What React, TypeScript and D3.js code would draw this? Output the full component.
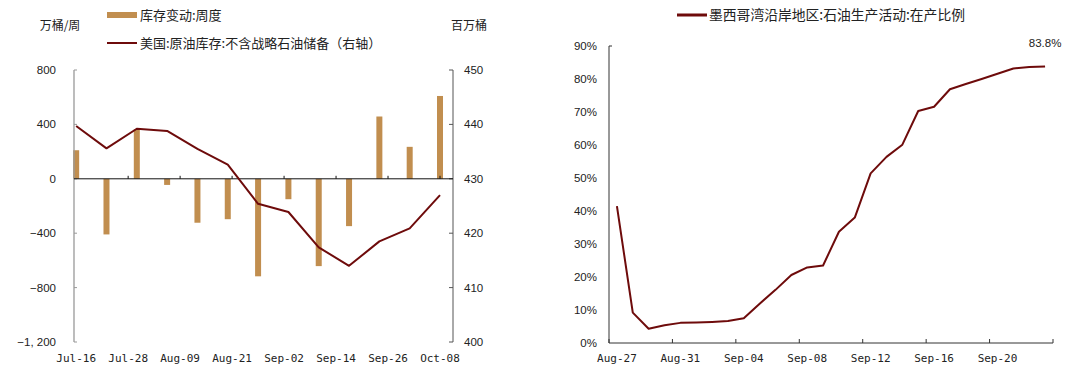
import React from "react";
import * as d3 from "d3";

// ---- Left chart data ----
const weekDates = ["2021-07-16","2021-07-23","2021-07-30","2021-08-06","2021-08-13","2021-08-20","2021-08-27","2021-09-03","2021-09-10","2021-09-17","2021-09-24","2021-10-01","2021-10-08"];
const stockChange = [210, -409, 363, -45, -323, -297, -717, -150, -642, -348, 458, 235, 609]; // 万桶/周
const crudeStocks = [439.7, 435.6, 439.2, 438.8, 435.5, 432.6, 425.4, 423.9, 417.4, 414.0, 418.5, 420.9, 427.0]; // 百万桶
const leftTickLabels = ["Jul-16","Jul-28","Aug-09","Aug-21","Sep-02","Sep-14","Sep-26","Oct-08"];
const leftTickDates = ["2021-07-16","2021-07-28","2021-08-09","2021-08-21","2021-09-02","2021-09-14","2021-09-26","2021-10-08"];
const leftYTicks = [800, 400, 0, -400, -800, -1200];
const leftYLabels = ["800", "400", "0", "\u2212400", "\u2212800", "\u22121, 200"];
const rightYTicks = [450, 440, 430, 420, 410, 400];

// ---- Right chart data ----
const dayLabels = ["Aug-27","Aug-28","Aug-29","Aug-30","Aug-31","Sep-01","Sep-02","Sep-03","Sep-04","Sep-05","Sep-06","Sep-07","Sep-08","Sep-09","Sep-10","Sep-11","Sep-12","Sep-13","Sep-14","Sep-15","Sep-16","Sep-17","Sep-18","Sep-19","Sep-20","Sep-21","Sep-22","Sep-23"];
const inProduction = [41.5, 9.2, 4.3, 5.4, 6.1, 6.2, 6.4, 6.7, 7.5, 11.9, 16.1, 20.6, 22.9, 23.5, 33.7, 38.0, 51.4, 56.4, 60.1, 70.3, 71.6, 76.9, 78.5, 80.0, 81.6, 83.2, 83.6, 83.8];
const shownDayLabels = ["Aug-27","Aug-31","Sep-04","Sep-08","Sep-12","Sep-16","Sep-20"];
const pctTicks = [0, 10, 20, 30, 40, 50, 60, 70, 80, 90];

const BAR = "#C18E4F";
const LINE = "#6E0B0B";
const TXT = "#222";
const NUM_FONT = "'Liberation Sans', Arial, sans-serif";
const CJK_FONT = "'Noto Sans CJK SC', sans-serif";
const MONO_FONT = "'DejaVu Sans Mono', monospace";

const parse = d3.timeParse("%Y-%m-%d");

function LeftChart() {
  const x = d3.scaleTime()
    .domain([new Date(2021, 6, 15, 12), new Date(2021, 9, 11)])
    .range([74, 453]);
  const yL = d3.scaleLinear().domain([-1200, 800]).range([342, 70]);
  const yR = d3.scaleLinear().domain([400, 450]).range([342, 70]);
  const dates = weekDates.map((d) => parse(d)!);
  const line = d3.line<number>()
    .x((_, i) => x(dates[i]))
    .y((v) => yR(v));
  const bw = 6;
  return (
    <g>
      {/* legend */}
      <rect x={107} y={12} width={30} height={6} fill={BAR} />
      <text x={140} y={20} fontFamily={CJK_FONT} fontSize={13} fill={TXT}>库存变动:周度</text>
      <line x1={107} x2={137} y1={43} y2={43} stroke={LINE} strokeWidth={2} />
      <text x={140} y={48} fontFamily={CJK_FONT} fontSize={13} fill={TXT}>美国:原油库存:不含战略石油储备（右轴）</text>
      <text x={60} y={30} textAnchor="middle" fontFamily={CJK_FONT} fontSize={12} fill={TXT}>万桶/周</text>
      <text x={469} y={30} textAnchor="middle" fontFamily={CJK_FONT} fontSize={12} fill={TXT}>百万桶</text>

      {/* bars */}
      {stockChange.map((v, i) => (
        <rect key={i} x={x(dates[i]) - bw / 2} y={Math.min(yL(v), yL(0))} width={bw}
          height={Math.abs(yL(v) - yL(0))} fill={BAR} />
      ))}

      {/* left axis */}
      <line x1={74} x2={74} y1={yL(800)} y2={yL(-1200)} stroke="#999" strokeWidth={1.3} />
      {leftYTicks.map((t, i) => (
        <g key={t}>
          <line x1={74} x2={77} y1={yL(t)} y2={yL(t)} stroke="#999" strokeWidth={1} />
          <text x={56} y={yL(t)} dy="0.35em" textAnchor="end" fontFamily={NUM_FONT} fontSize={11.5} fill={TXT}>{leftYLabels[i]}</text>
        </g>
      ))}
      {/* right axis */}
      <line x1={453} x2={453} y1={yR(450)} y2={yR(400)} stroke="#555" strokeWidth={1} />
      {rightYTicks.map((t) => (
        <g key={t}>
          <line x1={449} x2={453} y1={yR(t)} y2={yR(t)} stroke="#555" strokeWidth={1} />
          <text x={464} y={yR(t)} dy="0.35em" fontFamily={NUM_FONT} fontSize={11.5} fill={TXT}>{t}</text>
        </g>
      ))}
      {/* zero line */}
      <line x1={74} x2={453} y1={yL(0)} y2={yL(0)} stroke="#111" strokeWidth={1} />
      {leftTickDates.map((d, i) => {
        const xx = x(parse(d)!);
        return (
          <g key={d}>
            {i > 0 && <line x1={xx} x2={xx} y1={yL(0)} y2={yL(0) - 3} stroke="#111" strokeWidth={1} />}
            <text x={xx} y={362} textAnchor="middle" fontFamily={MONO_FONT} fontSize={11} fill={TXT}>{leftTickLabels[i]}</text>
          </g>
        );
      })}

      {/* line */}
      <path d={line(crudeStocks) || ""} fill="none" stroke={LINE} strokeWidth={2} strokeLinejoin="round" />
    </g>
  );
}

function RightChart() {
  const x = d3.scaleBand<string>().domain(dayLabels).range([609, 1053]).padding(0);
  const y = d3.scaleLinear().domain([0, 90]).range([343, 46]);
  const cx = (d: string) => (x(d) as number) + x.bandwidth() / 2;
  const line = d3.line<number>()
    .x((_, i) => cx(dayLabels[i]))
    .y((v) => y(v));
  const last = inProduction[inProduction.length - 1];
  const tickDays = dayLabels.filter((_, i) => i % 4 === 0);
  return (
    <g>
      <line x1={677} x2={707} y1={15} y2={15} stroke={LINE} strokeWidth={3} />
      <text x={709} y={20} fontFamily={CJK_FONT} fontSize={13.8} fill={TXT}>墨西哥湾沿岸地区:石油生产活动:在产比例</text>

      <line x1={609} x2={609} y1={y(90)} y2={y(0)} stroke="#333" strokeWidth={1} />
      <line x1={609} x2={612} y1={y(90)} y2={y(90)} stroke="#333" strokeWidth={1} />
      {pctTicks.map((t) => (
        <text key={t} x={597} y={y(t)} dy="0.35em" textAnchor="end" fontFamily={NUM_FONT} fontSize={11.5} fill={TXT}>{t}%</text>
      ))}
      <line x1={609} x2={1053} y1={y(0)} y2={y(0)} stroke="#333" strokeWidth={1} />
      {tickDays.map((d) => (
        <line key={d} x1={x(d) as number} x2={x(d) as number} y1={y(0)} y2={y(0) - 4} stroke="#333" strokeWidth={1} />
      ))}
      <line x1={1053} x2={1053} y1={y(0)} y2={y(0) - 4} stroke="#333" strokeWidth={1} />
      {shownDayLabels.map((d) => (
        <text key={d} x={cx(d)} y={362} textAnchor="middle" fontFamily={MONO_FONT} fontSize={11} fill={TXT}>{d}</text>
      ))}

      <path d={line(inProduction) || ""} fill="none" stroke={LINE} strokeWidth={2} strokeLinejoin="round" />
      <text x={cx(dayLabels[dayLabels.length - 1])} y={y(last) - 19} textAnchor="middle" fontFamily={NUM_FONT} fontSize={11.5} fill={TXT}>{last.toFixed(1)}%</text>
    </g>
  );
}

export default function App() {
  return (
    <div style={{ position: "absolute", left: 0, top: 0 }}>
      <svg width={1080} height={380} style={{ display: "block", background: "#fff" }}>
        <LeftChart />
        <RightChart />
      </svg>
    </div>
  );
}
